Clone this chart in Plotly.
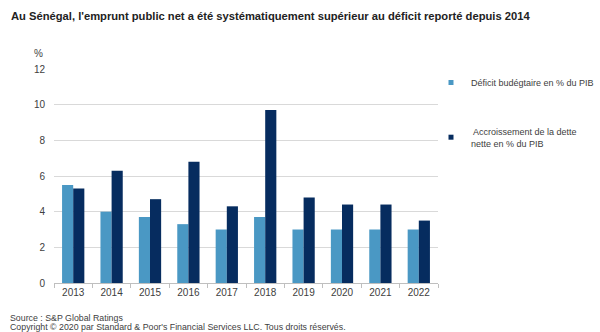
import plotly.graph_objects as go

years = ["2013", "2014", "2015", "2016", "2017", "2018", "2019", "2020", "2021", "2022"]
deficit = [5.5, 4.0, 3.7, 3.3, 3.0, 3.7, 3.0, 3.0, 3.0, 3.0]
dette = [5.3, 6.3, 4.7, 6.8, 4.3, 9.7, 4.8, 4.4, 4.4, 3.5]
y_ticks = [0, 2, 4, 6, 8, 10, 12]

title = "Au Sénégal, l'emprunt public net a été systématiquement supérieur au déficit reporté depuis 2014"
name1 = "Déficit budégtaire en % du PIB"
name2 = " Accroissement de la dette<br>nette en % du PIB"
c1 = "#4A98C4"
c2 = "#062C5F"

font = "Liberation Sans, Arial, sans-serif"

fig = go.Figure()
fig.add_trace(go.Bar(x=years, y=deficit, name=name1, marker_color=c1, marker_line_width=0, showlegend=False))
fig.add_trace(go.Bar(x=years, y=dette, name=name2, marker_color=c2, marker_line_width=0, showlegend=False))
# legend entries with small square keys
fig.add_trace(go.Scatter(x=[None], y=[None], mode="markers", name=name1, legendgroup="a",
                         marker=dict(symbol="square", size=5, color=c1)))
fig.add_trace(go.Scatter(x=[None], y=[None], mode="markers", name=name2, legendgroup="b",
                         marker=dict(symbol="square", size=5, color=c2)))

fig.update_layout(
    width=600, height=332,
    margin=dict(l=54, r=162, t=69, b=49, autoexpand=False),
    paper_bgcolor="white", plot_bgcolor="white",
    barmode="group", bargap=0.42, bargroupgap=0,
    font=dict(family=font, size=10, color="#404040"),
    showlegend=True,
    legend=dict(xref="container", yref="container", x=431/600, y=1 - 68/332,
                xanchor="left", yanchor="top",
                font=dict(size=9, color="#404040"), tracegroupgap=32,
                itemwidth=30, itemsizing="trace", bgcolor="rgba(0,0,0,0)"),
    xaxis=dict(showline=True, linecolor="#bfbfbf", linewidth=1, ticks="outside",
               tickcolor="#bfbfbf", ticklen=4, tickson="boundaries",
               tickfont=dict(size=10, color="#404040"), showgrid=False),
    yaxis=dict(range=[0, 12], tickvals=y_ticks, showgrid=True, gridcolor="#d9d9d9",
               gridwidth=1, zeroline=False, showline=False,
               tickfont=dict(size=10, color="#404040"), ticklabelstandoff=8),
)

fig.add_annotation(text="<b>" + title + "</b>", xref="paper", yref="paper",
                   x=-45/384, y=1 + 53/214, xanchor="left", yanchor="middle",
                   showarrow=False, font=dict(size=11.2, color="#222222", family=font))
fig.add_annotation(text="%", xref="paper", yref="paper", x=-9/384, y=1 + 16/214,
                   xanchor="right", yanchor="middle", showarrow=False,
                   font=dict(size=10, color="#404040"))
fig.add_annotation(text="Source : S&P Global Ratings",
                   xref="paper", yref="paper", x=-46/384, y=-35/214, xanchor="left", yanchor="middle",
                   align="left", showarrow=False, font=dict(size=8.8, color="#404040"))
fig.add_annotation(text="Copyright © 2020 par Standard & Poor's Financial Services LLC. Tous droits réservés.",
                   xref="paper", yref="paper", x=-46/384, y=-44/214, xanchor="left", yanchor="middle",
                   align="left", showarrow=False, font=dict(size=8.8, color="#404040"))

fig.write_html("out.html")
